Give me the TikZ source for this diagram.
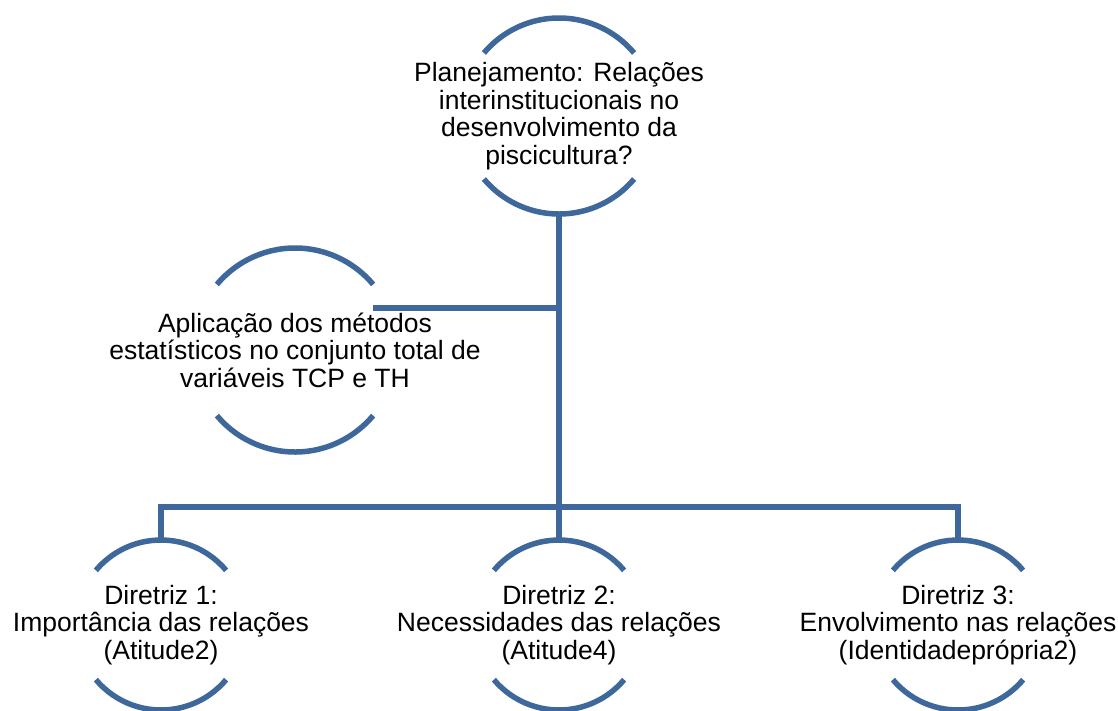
\documentclass[tikz,border=0pt]{standalone}
\usepackage{fontspec}
\setmainfont{Liberation Sans}
\definecolor{ringBlue}{RGB}{62,104,155}

\begin{document}
\begin{tikzpicture}[x=1pt, y=-1pt,
    ringText/.style={align=center, font=\fontsize{26.5}{27.5}\selectfont, inner sep=0pt},
    ringLine/.style={draw=ringBlue, line width=5.5pt},
    linkLine/.style={draw=ringBlue, line width=5.5pt}]
    \useasboundingbox (0,0) rectangle (1118,710);

    % centres of the rings
    \coordinate (plan) at (559,116);
    \coordinate (apply) at (295,350);
    \coordinate (dirOne) at (161,625);
    \coordinate (dirTwo) at (559,625);
    \coordinate (dirThree) at (958,625);

    % texts
    \node[ringText](planText) at (plan) {Planejamento: Relações\\interinstitucionais no\\desenvolvimento da\\piscicultura?};
    \node[ringText](applyText) at (apply) {Aplicação dos métodos\\estatísticos no conjunto total de\\variáveis TCP e TH};
    \node[ringText](dirOneText) at (dirOne) {Diretriz 1:\\Importância das relações\\(Atitude2)};
    \node[ringText](dirTwoText) at (dirTwo) {Diretriz 2:\\Necessidades das relações\\(Atitude4)};
    \node[ringText](dirThreeText) at (dirThree) {Diretriz 3:\\Envolvimento nas relações\\(Identidadeprópria2)};

    % rings (top and bottom arcs)
    \draw[ringLine] ([shift={(40:98pt)}]plan) arc[start angle=40, end angle=140, radius=98pt];
    \draw[ringLine] ([shift={(220:98pt)}]plan) arc[start angle=220, end angle=320, radius=98pt];
    \draw[ringLine] ([shift={(40:102pt)}]apply) arc[start angle=40, end angle=140, radius=102pt];
    \draw[ringLine] ([shift={(220:102pt)}]apply) arc[start angle=220, end angle=320, radius=102pt];
    \draw[ringLine] ([shift={(40:85pt)}]dirOne) arc[start angle=40, end angle=140, radius=85pt];
    \draw[ringLine] ([shift={(220:85pt)}]dirOne) arc[start angle=220, end angle=320, radius=85pt];
    \draw[ringLine] ([shift={(40:85pt)}]dirTwo) arc[start angle=40, end angle=140, radius=85pt];
    \draw[ringLine] ([shift={(220:85pt)}]dirTwo) arc[start angle=220, end angle=320, radius=85pt];
    \draw[ringLine] ([shift={(40:85pt)}]dirThree) arc[start angle=40, end angle=140, radius=85pt];
    \draw[ringLine] ([shift={(220:85pt)}]dirThree) arc[start angle=220, end angle=320, radius=85pt];

    % connector ends
    \coordinate (planBottom) at ([yshift=-98pt]plan);
    \coordinate (applyEnd) at (373,308);
    \coordinate (dirOneTop) at ([yshift=85pt]dirOne);
    \coordinate (dirTwoTop) at ([yshift=85pt]dirTwo);
    \coordinate (dirThreeTop) at ([yshift=85pt]dirThree);
    \coordinate (bus) at (559,507);

    \draw[linkLine] (planBottom) -- (dirTwoTop);
    \draw[linkLine] (applyEnd) -- (applyEnd -| planBottom);
    \draw[linkLine] (dirOneTop) |- (bus) -| (dirThreeTop);
\end{tikzpicture}
\end{document}
